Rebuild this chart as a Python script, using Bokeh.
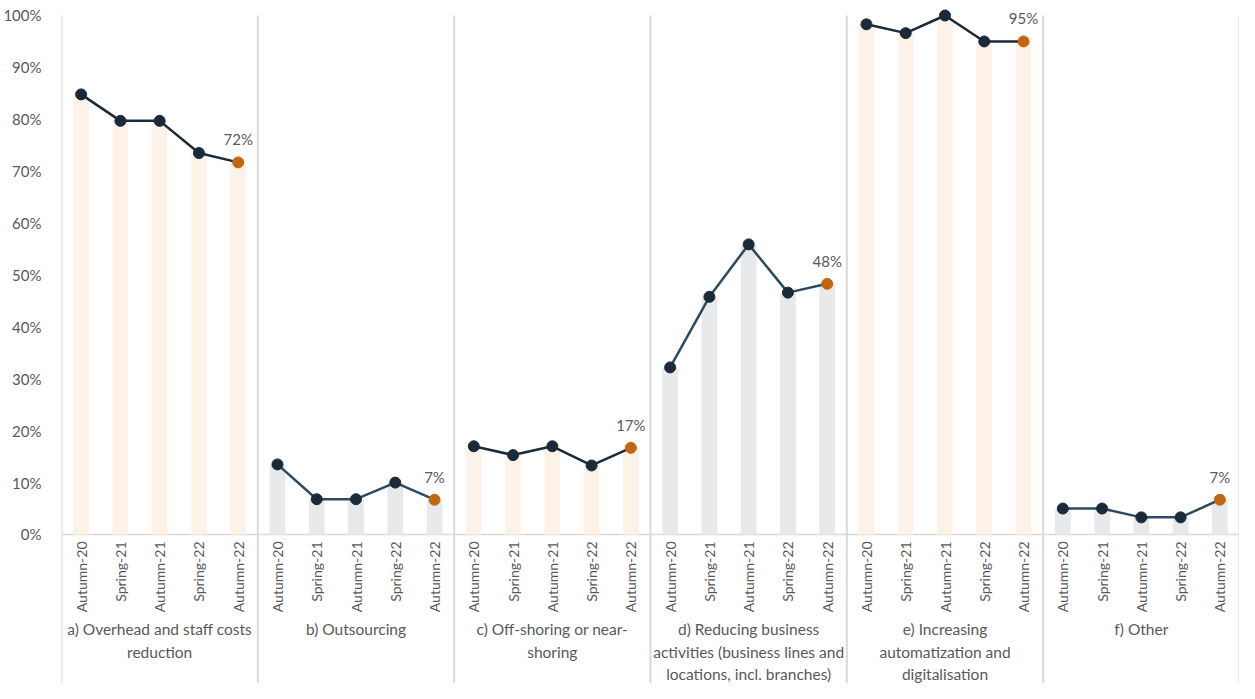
import math
from bokeh.plotting import figure
from bokeh.models import ColumnDataSource, FixedTicker, NumeralTickFormatter, Range1d
from bokeh.core.properties import value
from bokeh.embed import file_html
from bokeh.resources import INLINE

# ---- data ----
periods = ["Autumn-20", "Spring-21", "Autumn-21", "Spring-22", "Autumn-22"]
panel_labels = [
    "a) Overhead and staff costs\nreduction",
    "b) Outsourcing",
    "c) Off-shoring or near-\nshoring",
    "d) Reducing business\nactivities (business lines and\nlocations, incl. branches)",
    "e) Increasing\nautomatization and\ndigitalisation",
    "f) Other",
]
a_overhead = [0.848, 0.797, 0.797, 0.735, 0.717]
b_outsourcing = [0.135, 0.068, 0.068, 0.100, 0.067]
c_offshoring = [0.170, 0.153, 0.170, 0.133, 0.167]
d_reducing = [0.322, 0.458, 0.559, 0.466, 0.483]
e_automation = [0.983, 0.966, 1.000, 0.950, 0.950]
f_other = [0.050, 0.050, 0.033, 0.033, 0.067]
series = [a_overhead, b_outsourcing, c_offshoring, d_reducing, e_automation, f_other]

FONT = "Lato"
TXT = "#595959"
GRID = "#D9D9D9"
bar_colors = ["#FDF2E7", "#E8E9EB"]
line_colors = ["#1C2A38", "#2C4A63"]
dot_color = "#1B2A38"
last_color = "#C2660F"

n = len(periods)
y_top = 1.0289
y_bot = y_top - 1.316

p = figure(width=1239, height=683, output_backend="svg", toolbar_location=None,
           x_range=Range1d(0, n * len(series)), y_range=Range1d(y_bot, y_top),
           min_border_left=61, min_border_right=0, min_border_top=0, min_border_bottom=0)
p.outline_line_color = None
p.xgrid.visible = False
p.ygrid.visible = False
p.xaxis.visible = False
yax = p.yaxis[0]
yax.ticker = FixedTicker(ticks=[i / 10 for i in range(11)])
yax.formatter = NumeralTickFormatter(format="0%")
yax.axis_line_color = None
yax.major_tick_line_color = None
yax.minor_tick_line_color = None
yax.major_label_text_font = FONT
yax.major_label_text_font_size = "15px"
yax.major_label_text_color = TXT
yax.major_label_standoff = 14

# separators and baseline
sep_x = [k * n for k in range(len(series) + 1)]
p.segment(x0=sep_x, y0=[y_bot] * len(sep_x), x1=sep_x, y1=[1.0] * len(sep_x),
          line_color=GRID, line_width=2)
p.segment(x0=[0], y0=[0], x1=[n * len(series)], y1=[0], line_color=GRID, line_width=1.5)

for k, vals in enumerate(series):
    xs = [k * n + j + 0.5 for j in range(n)]
    src = ColumnDataSource(dict(x=xs, top=vals, period=periods))
    p.vbar(x="x", top="top", bottom=0, width=0.4, source=src,
           fill_color=bar_colors[k % 2], line_color=None)
    p.line(x="x", y="top", source=src, line_color=line_colors[k % 2], line_width=2.5)
    p.scatter(x=xs[:-1], y=vals[:-1], size=11, fill_color=dot_color, line_color=dot_color)
    p.scatter(x=[xs[-1]], y=[vals[-1]], size=11, fill_color=last_color, line_color=last_color)
    p.text(x=[xs[-1]], y=[vals[-1]], text=[f"{round(vals[-1] * 100)}%"],
           text_font=value(FONT), text_font_size="15px", text_color=TXT,
           text_align="center", text_baseline="middle", y_offset=-23)
    p.text(x="x", y=-0.0135, text="period", source=src, angle=math.pi / 2,
           text_font=value(FONT), text_font_size="14px", text_color=TXT,
           text_align="right", text_baseline="middle")
    p.text(x=[k * n + n / 2], y=[-0.1657], text=[panel_labels[k]],
           text_font=value(FONT), text_font_size="15.5px", text_color=TXT,
           text_align="center", text_baseline="top", text_line_height=1.25)

open("out.html", "w").write(file_html(p, INLINE))
